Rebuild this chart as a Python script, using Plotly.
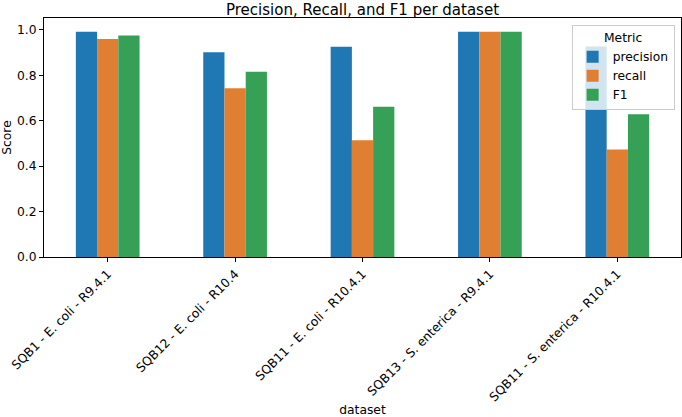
import plotly.graph_objects as go

datasets = ["SQB1 - E. coli - R9.4.1", "SQB12 - E. coli - R10.4", "SQB11 - E. coli - R10.4.1",
            "SQB13 - S. enterica - R9.4.1", "SQB11 - S. enterica - R10.4.1"]
precision = [0.991, 0.901, 0.925, 0.991, 0.926]
recall = [0.959, 0.743, 0.514, 0.991, 0.473]
f1 = [0.975, 0.815, 0.661, 0.991, 0.628]

series = [("precision", precision, "#1f77b4"), ("recall", recall, "#e07f31"), ("F1", f1, "#35a056")]

fig = go.Figure()
for name, vals, color in series:
    fig.add_trace(go.Bar(x=datasets, y=vals, name=name, marker=dict(color=color, line=dict(width=0))))

font = "DejaVu Sans"
fs = 12.3
fig.update_layout(
    width=682, height=417,
    margin=dict(l=44, r=1, t=18, b=160, autoexpand=False),
    plot_bgcolor="white", paper_bgcolor="white",
    font=dict(family=font, size=fs, color="black"),
    barmode="group", bargap=0.5, bargroupgap=0,
    title=dict(text="Precision, Recall, and F1 per dataset", x=0.5, xanchor="center",
               xref="paper", yref="container", y=1 - 9.5 / 417, yanchor="middle",
               font=dict(size=15, family=font, color="black")),
    legend=dict(title=dict(text="Metric", side="top center", font=dict(size=fs)),
                x=0.99, xanchor="right", y=0.97, yanchor="top",
                bgcolor="rgba(255,255,255,0.8)", bordercolor="#cccccc", borderwidth=1,
                font=dict(size=fs), tracegroupgap=0),
    xaxis=dict(title=dict(text="dataset", font=dict(size=fs)), automargin=False,
               tickangle=-45, showline=True, linecolor="black", linewidth=1, mirror=True,
               ticks="outside", ticklen=4, tickcolor="black", showgrid=False),
    yaxis=dict(title=dict(text="Score", font=dict(size=fs)), automargin=False, range=[0, 1.0517],
               dtick=0.2, tickformat=".1f", showline=True, linecolor="black", linewidth=1,
               mirror=True, ticks="outside", ticklen=4, tickcolor="black", showgrid=False,
               zeroline=False),
)

fig.write_html("out.html")
